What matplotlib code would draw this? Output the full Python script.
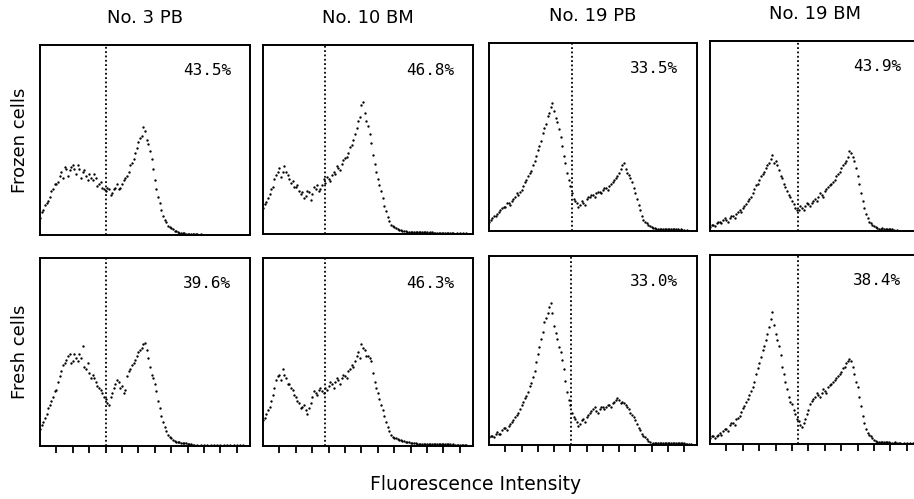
import matplotlib.pyplot as plt

# channel positions of the histogram dots: two interleaved readings
channels = list(range(0, 252, 4))
channels_b = list(range(2, 252, 4))

# frozen cells, counts as % of panel height
frozen_3pb = [9, 13, 17, 20, 24, 27, 31, 30, 35, 34, 37, 32, 35, 33, 31, 32,
              29, 30, 27, 25, 23, 24, 22, 25, 24, 27, 30, 33, 38, 43, 49, 52,
              55, 48, 40, 29, 20, 13, 8, 5, 3.5, 2, 1.5, 1, 0.8, 0.6, 0.5, 0.4,
              0.3, 0.3, 0.2, 0.2, 0.2, 0.2, 0.2, 0.2, 0.2, 0.2, 0.2, 0.2, 0.2, 0.2, 0.2]
frozen_3pb_b = [12, 16, 18, 23, 27, 28, 33, 36, 31, 36, 35, 37, 30, 34, 29, 30,
                32, 26, 28, 24, 25, 21, 24, 27, 25, 29, 31, 37, 40, 46, 51, 57,
                50, 44, 35, 24, 17, 10, 7, 4, 3, 2, 1.2, 1, 0.7, 0.5, 0.4, 0.3]
frozen_10bm = [14, 17, 21, 25, 31, 35, 33, 33, 29, 28, 25, 23, 22, 20, 22, 21,
               24, 23, 26, 27, 29, 31, 32, 35, 37, 40, 43, 47, 53, 60, 68, 64,
               57, 48, 37, 29, 23, 15, 9, 5, 3.5, 2.5, 2, 1.5, 1.3, 1.2, 1, 1,
               0.8, 0.8, 0.8, 0.8, 0.7, 0.7, 0.7, 0.6, 0.6, 0.5, 0.5, 0.5, 0.4, 0.4, 0.4]
frozen_10bm_b = [16, 19, 24, 29, 33, 30, 36, 31, 27, 25, 26, 21, 19, 23, 18, 25,
                 26, 24, 29, 30, 28, 33, 36, 34, 39, 41, 46, 50, 56, 62, 70, 60,
                 53, 42, 33, 26, 19, 12, 7, 4, 3, 2, 1.8, 1.4, 1.2, 1, 1.1, 0.9,
                 1, 0.8, 0.7, 0.8, 0.6, 0.7, 0.5, 0.6, 0.4, 0.5]
frozen_19pb = [5, 7, 8, 10, 12, 13, 15, 16, 18, 19, 22, 26, 29, 32, 37, 43,
               48, 55, 61, 66, 64, 58, 50, 40, 31, 24, 17, 15, 14, 15, 17, 18,
               19, 20, 21, 22, 23, 24, 26, 28, 31, 35, 33, 30, 26, 20, 14, 8,
               5, 3, 2, 1.5, 1.2, 1.2, 1, 1, 1, 1, 0.8, 0.8, 0.5, 0.3, 0.2]
frozen_19pb_b = [6, 8, 9, 11, 13, 15, 14, 17, 20, 21, 24, 27, 31, 35, 40, 45,
                 52, 57, 63, 68, 60, 54, 45, 36, 27, 20, 16, 13, 16, 14, 18, 19,
                 18, 21, 20, 23, 22, 25, 27, 29, 33, 36, 31, 28, 23, 17, 11, 6,
                 4, 2.5, 1.5, 1.3, 1.2, 1, 1.1, 1, 0.9, 0.9, 0.7, 0.6]
frozen_19bm = [2, 3, 4, 5, 6, 6, 7, 8, 9, 11, 12, 14, 17, 20, 24, 27,
               30, 33, 36, 40, 37, 32, 28, 23, 19, 16, 12, 11, 12, 13, 14, 15,
               17, 18, 19, 21, 23, 25, 27, 30, 33, 36, 39, 41, 37, 29, 20, 12,
               7, 4, 2.5, 1.5, 1.3, 1.2, 1, 0.8, 0.5, 0.3, 0.2, 0.2, 0.2, 0.2, 0.2]
frozen_19bm_b = [3, 2.5, 5, 4, 7, 5, 8, 7, 10, 10, 13, 16, 18, 22, 25, 29,
                 31, 35, 38, 36, 35, 29, 25, 21, 18, 14, 11, 13, 11, 15, 13, 16,
                 16, 20, 18, 22, 24, 26, 29, 31, 35, 37, 42, 39, 33, 25, 16, 9,
                 5, 3, 2, 1.2, 1.5, 1, 1.2, 1]

# fresh cells
fresh_3pb = [9, 13, 17, 22, 26, 30, 37, 43, 46, 49, 45, 47, 49, 53, 41, 39,
             38, 34, 31, 28, 25, 22, 28, 33, 34, 32, 30, 40, 43, 46, 50, 52,
             55, 47, 38, 33, 24, 16, 10, 6, 4, 2.6, 2, 1.8, 1.6, 1.2, 0.9, 0.5,
             0.3, 0.3, 0.3, 0.3, 0.3, 0.3, 0.3, 0.3, 0.3, 0.3, 0.3, 0.3, 0.3, 0.3, 0.3]
fresh_3pb_b = [11, 15, 20, 24, 29, 34, 40, 44, 48, 44, 49, 45, 47, 42, 44, 36,
               36, 32, 30, 26, 23, 26, 31, 35, 31, 28, 37, 41, 44, 48, 51, 54,
               51, 42, 36, 29, 20, 13, 8, 5, 3, 2.3, 2, 1.7, 1.4, 1, 0.7]
fresh_10bm = [14, 17, 21, 27, 35, 38, 41, 36, 33, 30, 26, 23, 21, 19, 20, 26,
              28, 30, 29, 31, 32, 33, 34, 35, 36, 37, 40, 43, 45, 50, 54, 51,
              48, 45, 34, 28, 22, 16, 10, 6, 4.5, 3.5, 3, 2.5, 2, 1.8, 1.5, 1.3,
              1.2, 1.1, 1, 1, 1, 1, 1, 1, 0.8, 0.8, 0.8, 0.6, 0.6, 0.5, 0.4]
fresh_10bm_b = [15, 19, 24, 31, 37, 35, 38, 33, 31, 27, 24, 20, 22, 17, 23, 29,
                27, 31, 28, 30, 34, 31, 36, 33, 38, 36, 41, 42, 48, 47, 52, 48,
                47, 39, 31, 25, 19, 13, 8, 5, 4, 3.2, 2.8, 2.2, 1.9, 1.6, 1.4, 1.2,
                1.1, 1, 1.1, 0.9, 1, 0.9, 1, 0.8, 0.9, 0.7, 0.7, 0.6, 0.5, 0.5]
fresh_19pb = [4, 5, 6, 6, 8, 9, 10, 12, 15, 17, 21, 25, 28, 33, 39, 48,
              56, 65, 70, 75, 63, 56, 49, 40, 28, 21, 15, 12, 11, 14, 15, 17,
              19, 18, 19, 20, 20, 21, 22, 24, 24, 23, 21, 19, 16, 13, 9, 6,
              4, 2, 0.5, 1, 1.2, 1.2, 1, 1, 1, 1, 1, 0.8, 0.8, 0.6, 0.5]
fresh_19pb_b = [5, 4, 7, 6, 9, 8, 11, 13, 16, 19, 23, 26, 31, 36, 44, 52,
                60, 67, 73, 70, 59, 52, 45, 34, 24, 17, 14, 10, 13, 12, 16, 18,
                20, 17, 20, 19, 21, 20, 23, 25, 22, 22, 20, 17, 15, 11, 8, 5,
                3, 1.5, 1, 1.1, 1, 1.1, 0.9, 1, 0.9, 1, 0.9, 0.8, 0.7, 0.6]
fresh_19bm = [3, 4, 4, 6, 7, 8, 10, 11, 13, 15, 19, 22, 26, 30, 37, 43,
              50, 55, 62, 70, 58, 52, 41, 33, 25, 21, 16, 12, 9, 13, 18, 23,
              25, 26, 27, 28, 30, 32, 34, 36, 38, 41, 44, 44, 37, 30, 20, 11,
              6, 4, 2, 1.2, 1, 1, 0.8, 0.7, 0.7, 0.7, 0.3, 0.3, 0.3, 0.3, 0.3]
fresh_19bm_b = [4, 3, 5, 5, 8, 7, 11, 10, 14, 17, 20, 24, 28, 33, 40, 46,
                52, 58, 66, 63, 55, 47, 37, 29, 22, 18, 13, 10, 11, 16, 21, 24,
                27, 25, 29, 27, 31, 33, 35, 37, 40, 43, 45, 41, 33, 25, 15, 8,
                5, 3, 1.5, 1, 1.1, 0.9, 0.8, 0.7, 0.8, 0.7]

titles = ['No. 3 PB', 'No. 10 BM', 'No. 19 PB', 'No. 19 BM']
row_labels = ['Frozen cells', 'Fresh cells']
rows = [[(frozen_3pb, frozen_3pb_b), (frozen_10bm, frozen_10bm_b),
         (frozen_19pb, frozen_19pb_b), (frozen_19bm, frozen_19bm_b)],
        [(fresh_3pb, fresh_3pb_b), (fresh_10bm, fresh_10bm_b),
         (fresh_19pb, fresh_19pb_b), (fresh_19bm, fresh_19bm_b)]]
gates = [[80, 76, 102, 107], [80, 76, 101, 107]]
percents = [['43.5%', '46.8%', '33.5%', '43.9%'],
            ['39.6%', '46.3%', '33.0%', '38.4%']]
tick_channels = [20, 40, 60, 80, 100, 120, 140, 160, 180, 200, 220, 240]

W, H = 914, 499
fig = plt.figure(figsize=(W / 100, H / 100), dpi=100)

# panel boxes in pixels: left, right, top, bottom
boxes = [[(40, 250, 45, 235), (263, 473, 45, 234), (489, 697, 43, 231), (710, 920, 41, 231)],
         [(40, 250, 258, 446), (263, 473, 258, 446), (489, 697, 256, 445), (710, 920, 255, 444)]]

for r in range(2):
    for c in range(4):
        l, rt, t, b = boxes[r][c]
        ax = fig.add_axes([l / W, 1 - b / H, (rt - l) / W, (b - t) / H])
        vals_a, vals_b = rows[r][c]
        ax.plot(channels, vals_a, linestyle='none', marker='o',
                markersize=1.7, markeredgewidth=0, color='black')
        ax.plot(channels_b[:len(vals_b)], vals_b, linestyle='none', marker='o',
                markersize=1.7, markeredgewidth=0, color='black')
        ax.axvline(gates[r][c], color='black', lw=1.3, linestyle=(0, (1, 1.4)))
        ax.text(0.91, 0.865, percents[r][c], transform=ax.transAxes,
                ha='right', va='center', fontsize=11.5, family='DejaVu Sans Mono')
        ax.set_xlim(0, 256)
        ax.set_ylim(0, 100)
        ax.set_yticks([])
        for s in ax.spines.values():
            s.set_linewidth(1.4)
        if r == 1:
            ax.set_xticks(tick_channels)
            ax.set_xticklabels([])
            ax.tick_params(axis='x', direction='out', length=5, width=1.3)
        else:
            ax.set_xticks([])
            ax.set_title(titles[c], fontsize=13, pad=16)
        if c == 0:
            ax.set_ylabel(row_labels[r], fontsize=13, labelpad=8)

fig.text(476 / W, 1 - 484 / H, 'Fluorescence Intensity', ha='center', va='center', fontsize=13.5)

fig.savefig('out.png', dpi=100)
